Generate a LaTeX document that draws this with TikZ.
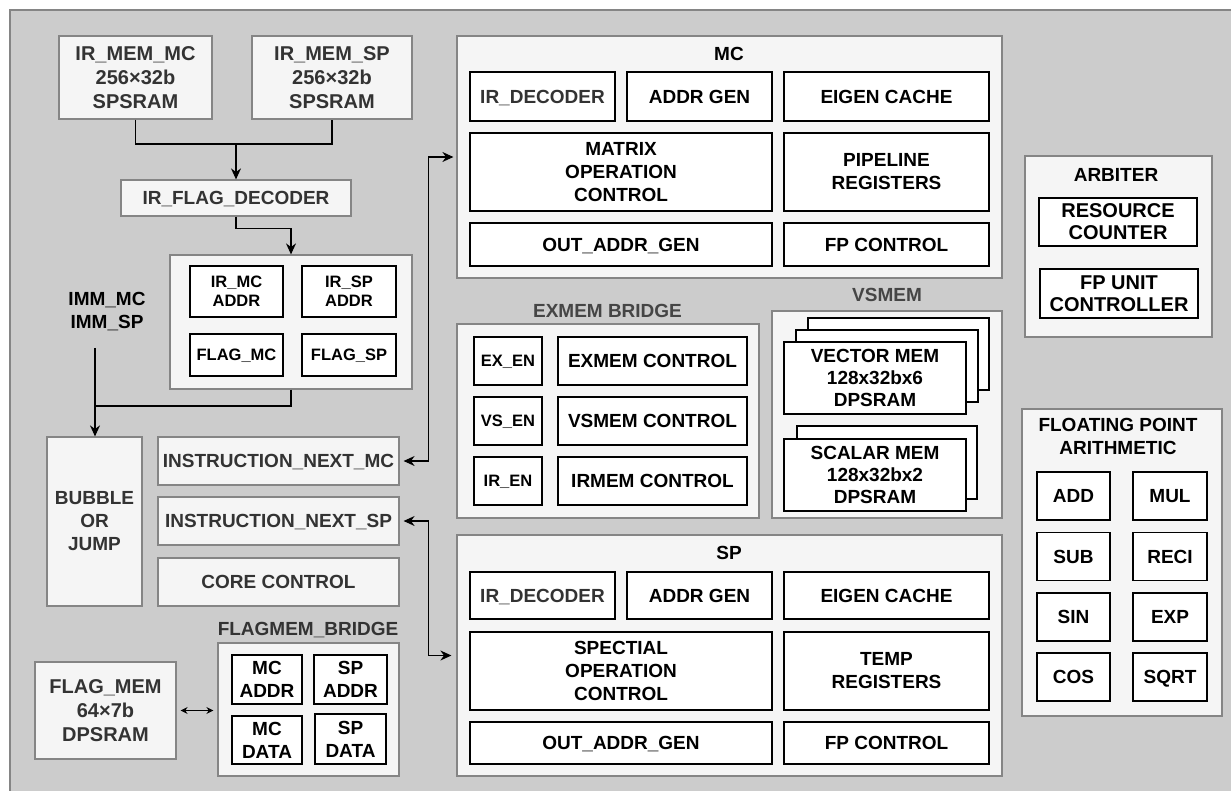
\documentclass[tikz,border=0pt]{standalone}
\usepackage{fontspec}
\setmainfont{Liberation Sans}
\usetikzlibrary{arrows.meta, calc}
\definecolor{bgc}{HTML}{CCCCCC}
\definecolor{gboxc}{HTML}{F5F5F5}
\definecolor{gline}{HTML}{858585}
\definecolor{textg}{HTML}{333333}
\definecolor{textl}{HTML}{454545}
\newcommand{\fbig}{\fontsize{20}{24}\selectfont\bfseries}
\newcommand{\fmid}{\fontsize{19}{23}\selectfont\bfseries}
\newcommand{\fsml}{\fontsize{16.5}{19}\selectfont\bfseries}
\newcommand{\us}{\smash{\_}}

\begin{document}
\begin{tikzpicture}[x=1pt, y=-1pt,
  grp/.style={draw=gline,fill=gboxc,line width=1.2pt,inner sep=0pt},
  gbox/.style={grp,align=center,text=textg,font=\fmid},
  wbox/.style={draw=black,fill=white,line width=1.2pt,inner sep=0pt,
               align=center,font=\fmid},
  ttl/.style={inner sep=0pt,align=center,font=\fmid},
  arr/.style={-{Stealth[length=11pt,width=10pt]},line width=1.2pt},
]
\useasboundingbox (0,0) rectangle (1231,791);
\fill[white] (0,0) rectangle (1231,791);
\begin{scope}
\clip (0,0) rectangle (1231,791);
\draw[draw=gline,fill=bgc,line width=1.5pt] (10,10) rectangle (1250,810);
\end{scope}

% instruction memories and decoder
\node[gbox,font=\fbig,minimum width=153pt,minimum height=83pt] (irmemmc) at (135.5,77.5)
  {IR\us MEM\us MC\\256×32b\\SPSRAM};
\node[gbox,font=\fbig,minimum width=160pt,minimum height=83pt] (irmemsp) at (332,77.5)
  {IR\us MEM\us SP\\256×32b\\SPSRAM};
\node[gbox,minimum width=230pt,minimum height=36pt] (irflag) at (236,198) {IR\us FLAG\us DECODER};
\coordinate (irjoin) at (236,144);
\draw[line width=1.2pt] (irmemmc.south) |- (irjoin) -| (irmemsp.south);
\draw[arr] (irjoin) -- (irflag.north);

\node[grp,minimum width=242pt,minimum height=134pt] (irgrp) at (291,322) {};
\node[wbox,font=\fsml,minimum width=93pt,minimum height=51pt] (irmcaddr) at (236.5,291.5) {IR\us MC\\ADDR};
\node[wbox,font=\fsml,minimum width=94pt,minimum height=51pt] (irspaddr) at (349,291.5) {IR\us SP\\ADDR};
\node[wbox,font=\fsml,minimum width=93pt,minimum height=42pt] (flagmc) at (236.5,355) {FLAG\us MC};
\node[wbox,font=\fsml,minimum width=94pt,minimum height=42pt] (flagsp) at (349,355) {FLAG\us SP};
\draw[arr] (irflag.south) -- ++(0,12) -| (irgrp.north);

% bubble / jump and next instruction
\node[ttl] (imm) at (107,310) {IMM\us MC\\IMM\us SP};
\node[gbox,minimum width=95pt,minimum height=169pt] (bubble) at (94.5,521.5) {BUBBLE\\OR\\JUMP};
\coordinate (immout) at (95,348);
\coordinate (bjoin) at (95,406);
\draw[line width=1.2pt] (irgrp.south) |- (bjoin);
\draw[arr] (immout) -- (bjoin) -- (bjoin |- bubble.north);

\node[gbox,minimum width=241pt,minimum height=48pt] (instmc) at (278.5,461) {INSTRUCTION\us NEXT\us MC};
\node[gbox,minimum width=241pt,minimum height=48pt] (instsp) at (278.5,521) {INSTRUCTION\us NEXT\us SP};
\node[gbox,minimum width=241pt,minimum height=48pt] (corectl) at (278.5,582) {CORE CONTROL};

% flag memory
\node[ttl,text=textg] (fmlabel) at (308,629) {FLAGMEM\us BRIDGE};
\node[grp,minimum width=181pt,minimum height=133pt] (fmgrp) at (308.5,709.5) {};
\node[wbox,minimum width=70pt,minimum height=49pt] (fmmcaddr) at (267,679.5) {MC\\ADDR};
\node[wbox,minimum width=73pt,minimum height=49pt] (fmspaddr) at (350.5,679.5) {SP\\ADDR};
\node[wbox,minimum width=70pt,minimum height=48pt] (fmmcdata) at (267,740) {MC\\DATA};
\node[wbox,minimum width=71pt,minimum height=50pt] (fmspdata) at (350.5,739) {SP\\DATA};
\node[gbox,font=\fbig,minimum width=141pt,minimum height=97pt] (flagmem) at (105.5,710.5)
  {FLAG\us MEM\\64×7b\\DPSRAM};
\draw[{Stealth[length=7pt,width=7pt]}-{Stealth[length=7pt,width=7pt]},line width=1.2pt,
  shorten <=4pt,shorten >=4pt] (flagmem.east) -- (flagmem.east -| fmgrp.west);

% MC
\node[grp,minimum width=545pt,minimum height=242pt] (mcgrp) at (729.5,157) {};
\node[ttl] (mclabel) at (729,54) {MC};
\node[wbox,text=textg,minimum width=145pt,minimum height=49pt] (mcdec) at (542.5,96.5) {IR\us DECODER};
\node[wbox,minimum width=145pt,minimum height=49pt] (mcagen) at (699.5,96.5) {ADDR GEN};
\node[wbox,minimum width=205pt,minimum height=49pt] (mceigen) at (886.5,96.5) {EIGEN CACHE};
\node[wbox,minimum width=302pt,minimum height=78pt] (mcmatrix) at (621,172) {MATRIX\\OPERATION\\CONTROL};
\node[wbox,minimum width=205pt,minimum height=78pt] (mcpipe) at (886.5,172) {PIPELINE\\REGISTERS};
\node[wbox,minimum width=302pt,minimum height=43pt] (mcout) at (621,244.5) {OUT\us ADDR\us GEN};
\node[wbox,minimum width=205pt,minimum height=43pt] (mcfp) at (886.5,244.5) {FP CONTROL};

% SP
\node[grp,minimum width=545pt,minimum height=241pt] (spgrp) at (729.5,655.5) {};
\node[ttl] (splabel) at (729,553) {SP};
\node[wbox,text=textg,minimum width=145pt,minimum height=47pt] (spdec) at (542.5,595.5) {IR\us DECODER};
\node[wbox,minimum width=145pt,minimum height=47pt] (spagen) at (699.5,595.5) {ADDR GEN};
\node[wbox,minimum width=205pt,minimum height=47pt] (speigen) at (886.5,595.5) {EIGEN CACHE};
\node[wbox,minimum width=302pt,minimum height=78pt] (spspec) at (621,671) {SPECTIAL\\OPERATION\\CONTROL};
\node[wbox,minimum width=205pt,minimum height=78pt] (sptemp) at (886.5,671) {TEMP\\REGISTERS};
\node[wbox,minimum width=302pt,minimum height=42pt] (spout) at (621,743) {OUT\us ADDR\us GEN};
\node[wbox,minimum width=205pt,minimum height=42pt] (spfp) at (886.5,743) {FP CONTROL};

\draw[arr,{Stealth[length=11pt,width=10pt]}-{Stealth[length=11pt,width=10pt]},
  shorten <=4pt,shorten >=3pt] (instmc.east) -- ++(29,0) |- (mcgrp.west);
\draw[arr,{Stealth[length=11pt,width=10pt]}-{Stealth[length=11pt,width=10pt]},
  shorten <=4pt,shorten >=5pt] (instsp.east) -- ++(29,0) |- (spgrp.west);

% EXMEM bridge
\node[ttl,text=textl] (exlabel) at (607.5,311) {EXMEM BRIDGE};
\node[grp,minimum width=302pt,minimum height=194pt] (exgrp) at (608,421) {};
\node[wbox,font=\fsml,minimum width=68pt,minimum height=48pt] (exen) at (508,361) {EX\us EN};
\node[wbox,minimum width=189pt,minimum height=48pt] (exctl) at (652.5,361) {EXMEM CONTROL};
\node[wbox,font=\fsml,minimum width=68pt,minimum height=48pt] (vsen) at (508,421) {VS\us EN};
\node[wbox,minimum width=189pt,minimum height=48pt] (vsctl) at (652.5,421) {VSMEM CONTROL};
\node[wbox,font=\fsml,minimum width=68pt,minimum height=48pt] (iren) at (508,481) {IR\us EN};
\node[wbox,minimum width=189pt,minimum height=48pt] (irctl) at (652.5,481) {IRMEM CONTROL};

% VSMEM
\node[ttl,text=textl] (vslabel) at (887,295) {VSMEM};
\node[grp,minimum width=230pt,minimum height=207pt] (vsgrp) at (887,414.5) {};
\node[wbox,minimum width=181pt,minimum height=72pt] (vecb1) at (898.5,354) {};
\node[wbox,minimum width=182pt,minimum height=72pt] (vecb2) at (887,366) {};
\node[wbox,font=\fontsize{19}{22}\selectfont\bfseries,minimum width=182pt,minimum height=72pt]
  (vecmem) at (875,378) {VECTOR MEM\\128x32bx6\\DPSRAM};
\node[wbox,minimum width=180pt,minimum height=73pt] (scab1) at (887,462.5) {};
\node[wbox,font=\fontsize{19}{22}\selectfont\bfseries,minimum width=182pt,minimum height=72pt]
  (scamem) at (875,475) {SCALAR MEM\\128x32bx2\\DPSRAM};

% arbiter
\node[grp,minimum width=187pt,minimum height=181pt] (arbgrp) at (1118.5,246.5) {};
\node[ttl] (arblabel) at (1116,175) {ARBITER};
\node[wbox,font=\fontsize{20}{22}\selectfont\bfseries,minimum width=158pt,minimum height=48pt]
  (rescnt) at (1118,222) {RESOURCE\\COUNTER};
\node[wbox,font=\fontsize{20}{22}\selectfont\bfseries,minimum width=158pt,minimum height=49pt]
  (fpunit) at (1119,293.5) {FP UNIT\\CONTROLLER};

% floating point arithmetic
\node[grp,minimum width=200pt,minimum height=307pt] (fpgrp) at (1122,562.5) {};
\node[ttl] (fplabel) at (1118,436.5) {FLOATING POINT\\ARITHMETIC};
\node[wbox,minimum width=73pt,minimum height=48pt] (fpadd) at (1073.5,496) {ADD};
\node[wbox,minimum width=74pt,minimum height=48pt] (fpmul) at (1170,496) {MUL};
\node[wbox,minimum width=73pt,minimum height=48pt] (fpsub) at (1073.5,556.5) {SUB};
\node[wbox,minimum width=74pt,minimum height=48pt] (fpreci) at (1170,556.5) {RECI};
\node[wbox,minimum width=73pt,minimum height=48pt] (fpsin) at (1073.5,617) {SIN};
\node[wbox,minimum width=74pt,minimum height=48pt] (fpexp) at (1170,617) {EXP};
\node[wbox,minimum width=73pt,minimum height=48pt] (fpcos) at (1073.5,677) {COS};
\node[wbox,minimum width=74pt,minimum height=48pt] (fpsqrt) at (1170,677) {S\smash{Q}RT};
\end{tikzpicture}
\end{document}
